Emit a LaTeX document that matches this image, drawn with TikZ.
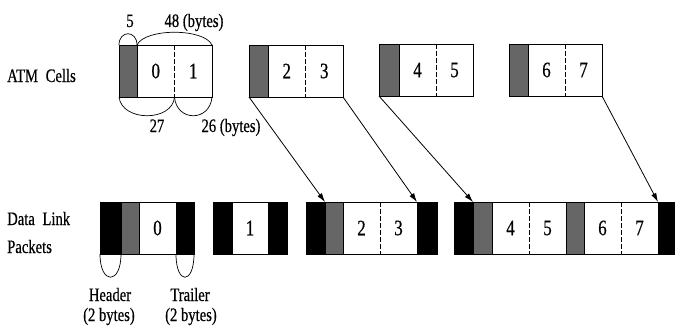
\documentclass[tikz,border=0pt]{standalone}
\usepackage{fontspec}
\setmainfont{Liberation Serif}[FakeStretch=0.77, FakeBold=0.5]
\usetikzlibrary{arrows.meta,calc}
\begin{document}
\begin{tikzpicture}[x=1pt,y=-1pt,
  seg/.style={draw, line width=0.8pt, inner sep=0pt, outer sep=0pt,
              minimum height=52pt, anchor=north west},
  hdr/.style={seg, fill=black!60},
  trl/.style={seg, fill=black},
  pay/.style={seg, fill=white, font=\fontsize{22}{24}\selectfont},
  div/.style={line width=0.6pt, dash pattern=on 5pt off 2pt},
  num/.style={font=\fontsize{22}{24}\selectfont, inner sep=0pt},
  lab/.style={font=\fontsize{19}{21}\selectfont, inner sep=0pt, anchor=base},
  side/.style={lab, anchor=base west},
  brace/.style={line width=0.7pt},
  link/.style={line width=0.8pt, -{Latex[length=9pt,width=5.5pt]}}]
\useasboundingbox (0,0) rectangle (675,329);

% ---------- ATM cells: 5-byte header + 48-byte payload ----------
\node[hdr, minimum width=18pt] (c1h) at (119,45) {};
\node[pay, minimum width=75pt] (c1p) at (c1h.north east) {};
\node[hdr, minimum width=19pt] (c2h) at (249,45) {};
\node[pay, minimum width=75pt] (c2p) at (c2h.north east) {};
\node[hdr, minimum width=20pt] (c3h) at (379,44) {};
\node[pay, minimum width=74pt] (c3p) at (c3h.north east) {};
\node[hdr, minimum width=19pt] (c4h) at (509,44) {};
\node[pay, minimum width=74pt] (c4p) at (c4h.north east) {};

\foreach \c/\a/\b in {c1p/0/1, c2p/2/3, c3p/4/5, c4p/6/7} {
  \draw[div] (\c.north) -- (\c.south);
  \node[num] (n\a) at ($(\c.center)!0.5!(\c.west)$) {\a};
  \node[num] (n\b) at ($(\c.center)!0.5!(\c.east)$) {\b};
}

% size braces on the first cell
\draw[brace] (c1h.north west) .. controls +(0,-15) and +(0,-15) .. (c1h.north east);
\draw[brace] (c1p.north west) .. controls +(8,-17) and +(-8,-17) .. (c1p.north east);
\draw[brace] (c1h.south west) .. controls +(3,25) and +(-2,25) .. (c1p.south);
\draw[brace] (c1p.south) .. controls +(2,25) and +(-2,25) .. (c1p.south east);
\node[lab] (l5)  at (130,27) {5};
\node[lab] (l48) at (194,27) {48 (bytes)};
\node[lab] (l27) at (157,132) {27};
\node[lab] (l26) at (231,132) {26 (bytes)};

% ---------- data link packets: 2-byte header + 2-byte trailer ----------
\node[trl, minimum width=21pt] (p1a) at (100,202) {};
\node[hdr, minimum width=18pt] (p1h) at (p1a.north east) {};
\node[pay, minimum width=37pt] (p1p) at (p1h.north east) {0};
\node[trl, minimum width=18pt] (p1b) at (p1p.north east) {};

\node[trl, minimum width=19pt] (p2a) at (213,202) {};
\node[pay, minimum width=36pt] (p2p) at (p2a.north east) {1};
\node[trl, minimum width=19pt] (p2b) at (p2p.north east) {};

\node[trl, minimum width=19pt] (p3a) at (306,202) {};
\node[hdr, minimum width=18pt] (p3h) at (p3a.north east) {};
\node[pay, minimum width=74pt] (p3p) at (p3h.north east) {};
\node[trl, minimum width=20pt] (p3b) at (p3p.north east) {};

\node[trl, minimum width=19pt] (p4a) at (454,202) {};
\node[hdr, minimum width=19pt] (p4h) at (p4a.north east) {};
\node[pay, minimum width=74pt] (p4p) at (p4h.north east) {};
\node[hdr, minimum width=18pt] (p4g) at (p4p.north east) {};
\node[pay, minimum width=74pt] (p4q) at (p4g.north east) {};
\node[trl, minimum width=18pt] (p4b) at (p4q.north east) {};

\foreach \c/\a/\b in {p3p/2/3, p4p/4/5, p4q/6/7} {
  \draw[div] (\c.north) -- (\c.south);
  \node[num] (m\a) at ($(\c.center)!0.5!(\c.west)$) {\a};
  \node[num] (m\b) at ($(\c.center)!0.5!(\c.east)$) {\b};
}

% header / trailer braces
\draw[brace] (p1a.south west) .. controls +(0,31) and +(0,31) .. (p1a.south east);
\draw[brace] (p1b.south west) .. controls +(0,31) and +(0,31) .. (p1b.south east);
\node[lab] (lh)  at (110,301) {Header};
\node[lab] (lh2) at (109,321) {(2 bytes)};
\node[lab] (lt)  at (190,301) {Trailer};
\node[lab] (lt2) at (191,321) {(2 bytes)};

% ---------- row titles ----------
\node[side] (atm) at (7,82)  {ATM\hspace{4pt} Cells};
\node[side] (dl1) at (7,225) {Data\hspace{4pt} Link};
\node[side] (dl2) at (7,253) {Packets};

% ---------- reassembly arrows ----------
\draw[link] (c2h.south west) -- (p3h.north west);
\draw[link] (c2p.south east) -- (p3b.north west);
\draw[link] (c3h.south west) -- (p4h.north west);
\draw[link] (c4p.south east) -- (p4b.north west);
\end{tikzpicture}
\end{document}
